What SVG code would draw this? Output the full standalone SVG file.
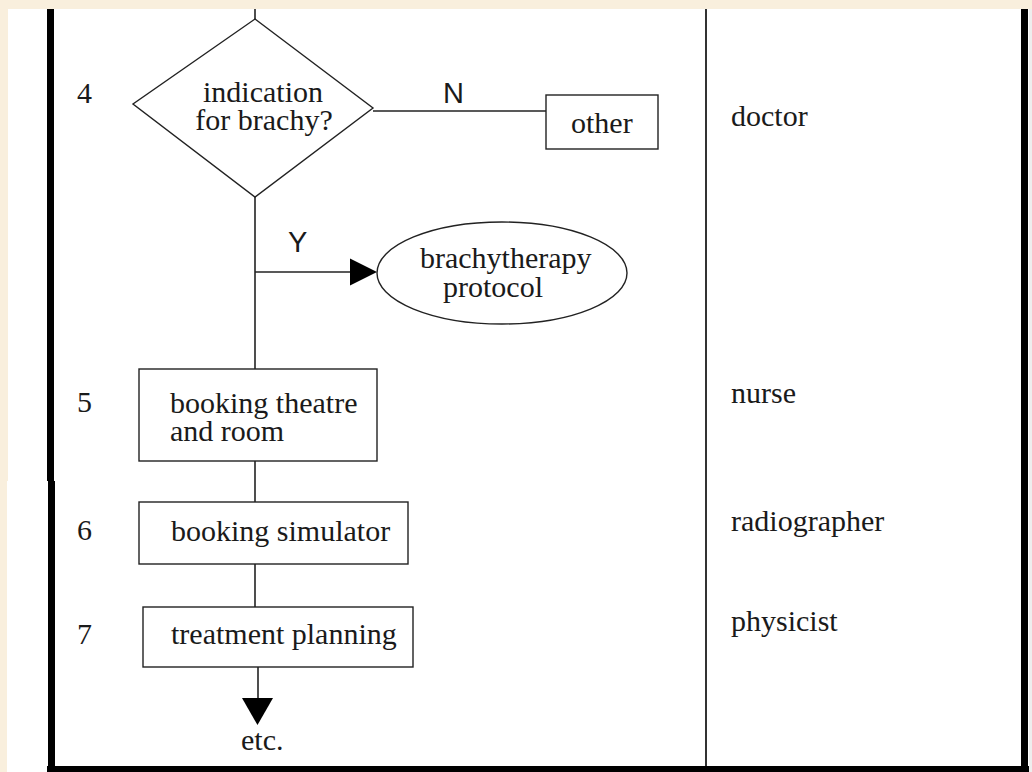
<svg xmlns="http://www.w3.org/2000/svg" width="1032" height="772" viewBox="0 0 1032 772">
<style>
.s{fill:#fff;stroke:#222;stroke-width:1.4}
.ln{fill:none;stroke:#222;stroke-width:1.6}
.t{font-family:"Liberation Serif","Times New Roman",serif;font-size:30px;fill:#1a1a1a}
.c{text-anchor:middle}
.lab{font-family:"Liberation Sans",Arial,sans-serif;font-size:29px;fill:#1a1a1a}
.ah{fill:#000}
</style>
<rect x="0" y="0" width="1032" height="772" fill="#F9EFDD"/>
<rect x="8" y="9" width="1021" height="472" fill="#fff"/>
<rect x="7" y="481" width="1022" height="291" fill="#fff"/>
<rect x="1029" y="9" width="3" height="763" fill="#eee"/>
<g id="frame">
<rect x="47" y="9" width="7" height="472" fill="#000"/>
<rect x="48" y="481" width="7" height="291" fill="#000"/>
<rect x="47" y="766" width="982" height="6" fill="#000"/>
<rect x="1021" y="9" width="7" height="763" fill="#000"/>
<rect x="705" y="9" width="2" height="757" fill="#333"/>
</g>
<g id="step-numbers" class="t">
<text x="77" y="103">4</text>
<text x="77" y="412">5</text>
<text x="77" y="540">6</text>
<text x="77" y="644">7</text>
</g>
<g id="roles" class="t">
<text x="731" y="126">doctor</text>
<text x="731" y="403">nurse</text>
<text x="731" y="531">radiographer</text>
<text x="731" y="631">physicist</text>
</g>
<g id="connectors">
<line class="ln" x1="255" y1="9" x2="255" y2="19"/>
<line class="ln" x1="373" y1="111" x2="546" y2="111"/>
<line class="ln" x1="255" y1="197" x2="255" y2="369"/>
<line class="ln" x1="255" y1="272" x2="352" y2="272"/>
<polygon class="ah" points="350,258.5 377,272 350,285.5"/>
<line class="ln" x1="255" y1="461" x2="255" y2="502"/>
<line class="ln" x1="255" y1="564" x2="255" y2="607"/>
<line class="ln" x1="258" y1="667" x2="258" y2="700"/>
<polygon class="ah" points="242,698 273,698 257.5,725"/>
<text class="lab" x="443" y="103">N</text>
<text class="lab" x="288" y="252">Y</text>
</g>
<g id="decision">
<polygon class="s" points="255,19 373,108 255,197 133,104"/>
<text class="t c" x="263" y="102">indication</text>
<text class="t c" x="264" y="130">for brachy?</text>
</g>
<g id="other">
<rect class="s" x="546" y="95" width="112" height="54"/>
<text class="t" x="571" y="133">other</text>
</g>
<g id="protocol">
<ellipse class="s" cx="502" cy="273" rx="125" ry="51"/>
<text class="t" x="420" y="268">brachytherapy</text>
<text class="t" x="443" y="297">protocol</text>
</g>
<g id="booking-theatre">
<rect class="s" x="139" y="369" width="238" height="92"/>
<text class="t" x="170" y="413">booking theatre</text>
<text class="t" x="170" y="441">and room</text>
</g>
<g id="booking-simulator">
<rect class="s" x="139" y="502" width="269" height="62"/>
<text class="t" x="171" y="541">booking simulator</text>
</g>
<g id="treatment-planning">
<rect class="s" x="143" y="607" width="270" height="60"/>
<text class="t" x="171" y="644">treatment planning</text>
</g>
<g id="etc">
<text class="t" x="241" y="750">etc.</text>
</g>
</svg>
